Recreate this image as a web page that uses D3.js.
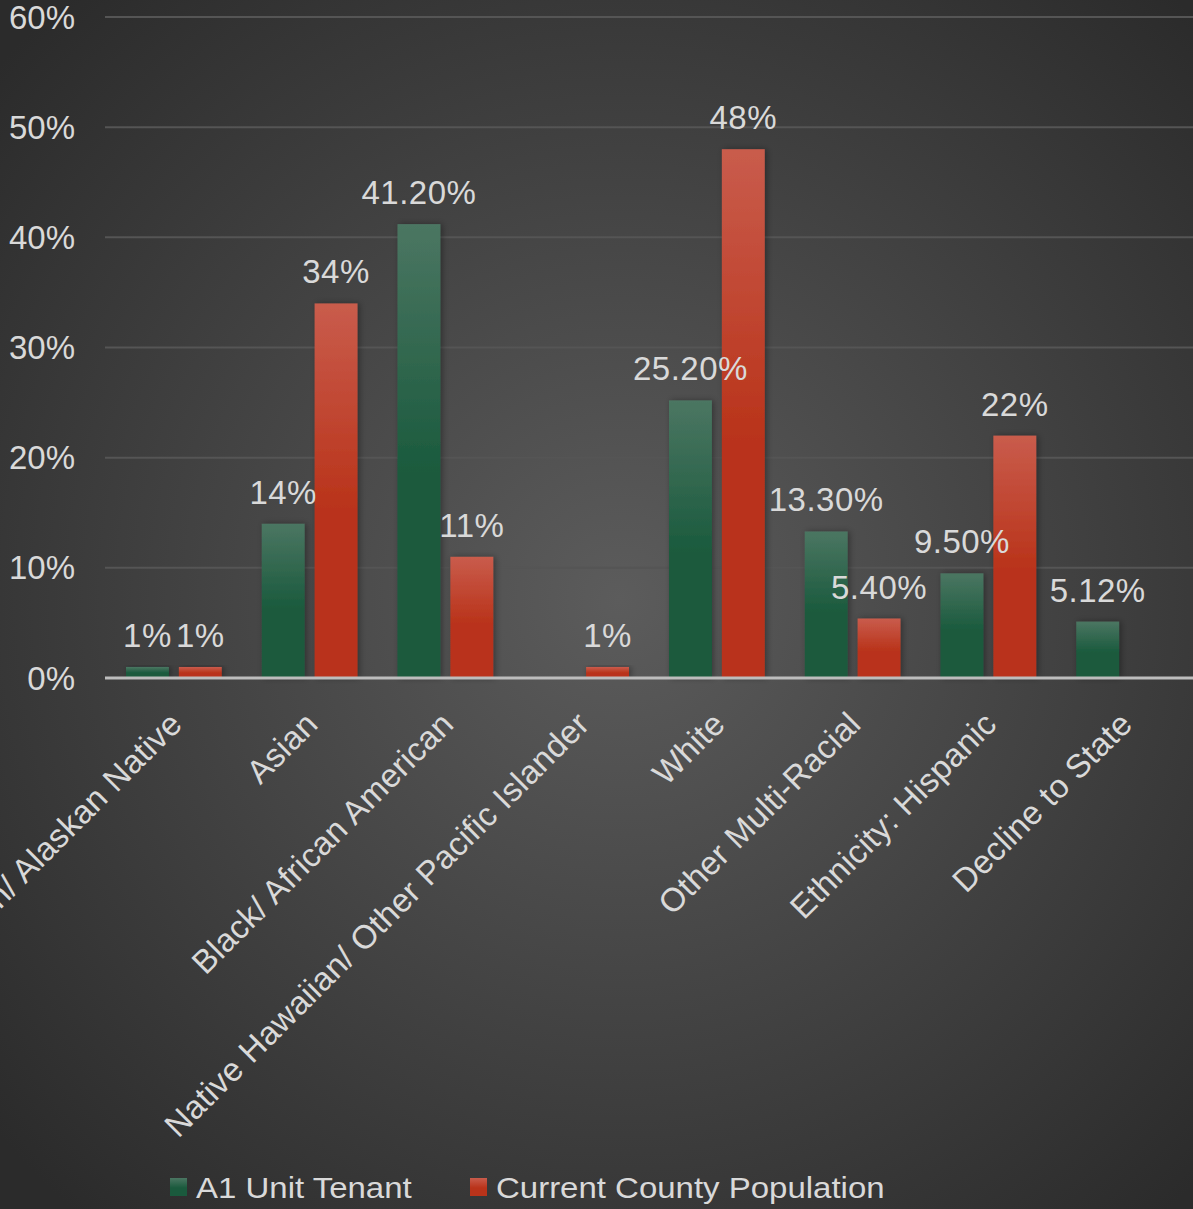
<!DOCTYPE html>
<html>
<head>
<meta charset="utf-8">
<script src="https://cdn.jsdelivr.net/npm/d3@7"></script>
<style>
  body { margin: 0; background: #333; }
  svg { display: block; }
  text { font-family: "Liberation Sans", Arial, sans-serif; fill: #d9d9d9; }
</style>
</head>
<body>
<div id="chart"></div>
<script>
// categories and values (percent)
let categories = [
  "American Indian/ Alaskan Native",
  "Asian",
  "Black/ African American",
  "Native Hawaiian/ Other Pacific Islander",
  "White",
  "Other Multi-Racial",
  "Ethnicity: Hispanic",
  "Decline to State"
]
let tenantValues = [1, 14, 41.2, null, 25.2, 13.3, 9.5, 5.12]
let tenantLabels = ["1%", "14%", "41.20%", "", "25.20%", "13.30%", "9.50%", "5.12%"]
let countyValues = [1, 34, 11, 1, 48, 5.4, 22, null]
let countyLabels = ["1%", "34%", "11%", "1%", "48%", "5.40%", "22%", ""]
let seriesNames = ["A1 Unit Tenant", "Current County Population"]
let yTicks = [0, 10, 20, 30, 40, 50, 60]

let width = 1193
let height = 1209

let svg = d3.select("#chart")
  .append("svg")
  .attr("width", width)
  .attr("height", height)

let defs = svg.append("defs")

// background radial gradient
let bg = defs.append("radialGradient")
  .attr("id", "bg")
  .attr("gradientUnits", "userSpaceOnUse")
  .attr("cx", 620).attr("cy", 600).attr("r", 820)
bg.append("stop").attr("offset", "0%").attr("stop-color", "#5c5c5c")
bg.append("stop").attr("offset", "100%").attr("stop-color", "#2b2b2b")

// bar gradients
function barGradient(id, top, bottom) {
  let g = defs.append("linearGradient")
    .attr("id", id)
    .attr("x1", 0).attr("y1", 0).attr("x2", 0).attr("y2", 1)
  g.append("stop").attr("offset", "0%").attr("stop-color", top)
  g.append("stop").attr("offset", "55%").attr("stop-color", bottom)
  g.append("stop").attr("offset", "100%").attr("stop-color", bottom)
}
barGradient("gGreen", "#4b7662", "#1a5a3d")
barGradient("gRed", "#c95c4c", "#b9331a")

let shadow = defs.append("filter").attr("id", "shadow")
  .attr("x", "-30%").attr("y", "-10%").attr("width", "160%").attr("height", "120%")
shadow.append("feDropShadow")
  .attr("dx", 2).attr("dy", 0).attr("stdDeviation", 3)
  .attr("flood-color", "#000").attr("flood-opacity", 0.35)

svg.append("rect")
  .attr("width", width).attr("height", height)
  .attr("fill", "url(#bg)")

// scales
let yScale = d3.scaleLinear()
  .domain([0, 60])
  .range([678, 17])

let x0 = d3.scaleBand()
  .domain(categories)
  .range([106, 1192])

let x1 = d3.scaleBand()
  .domain(seriesNames)
  .range([20, x0.bandwidth() - 20])
  .paddingInner(10 / 53)

// gridlines
svg.append("g")
  .selectAll("line")
  .data(yTicks.filter(d => d > 0))
  .enter()
  .append("line")
  .attr("x1", 105).attr("x2", width)
  .attr("y1", d => yScale(d)).attr("y2", d => yScale(d))
  .attr("stroke", "#555555")
  .attr("stroke-width", 2)

// y tick labels
svg.append("g")
  .selectAll("text")
  .data(yTicks)
  .enter()
  .append("text")
  .attr("x", 75)
  .attr("y", d => yScale(d))
  .attr("dy", "0.35em")
  .attr("text-anchor", "end")
  .style("font-size", "33px")
  .text(d => d + "%")

// bars
let series = [
  {name: seriesNames[0], values: tenantValues, labels: tenantLabels, fill: "url(#gGreen)"},
  {name: seriesNames[1], values: countyValues, labels: countyLabels, fill: "url(#gRed)"}
]

let rowsFor = s => categories.map((c, i) => ({cat: c, v: s.values[i], label: s.labels[i]}))
  .filter(d => d.v != null)

series.forEach(s => {
  svg.append("g")
    .selectAll("rect")
    .data(rowsFor(s))
    .enter()
    .append("rect")
    .attr("x", d => x0(d.cat) + x1(s.name))
    .attr("y", d => yScale(d.v))
    .attr("width", x1.bandwidth())
    .attr("height", d => yScale(0) - yScale(d.v))
    .attr("fill", s.fill)
    .attr("filter", "url(#shadow)")
})

// zero axis line
svg.append("line")
  .attr("x1", 105).attr("x2", width)
  .attr("y1", yScale(0)).attr("y2", yScale(0))
  .attr("stroke", "#bdbdbd")
  .attr("stroke-width", 3)

// value labels drawn after all bars so they sit on top
series.forEach(s => {
  svg.append("g")
    .selectAll("text")
    .data(rowsFor(s).filter(d => d.label))
    .enter()
    .append("text")
    .attr("x", d => x0(d.cat) + x1(s.name) + x1.bandwidth() / 2)
    .attr("y", d => yScale(d.v) - 20)
    .attr("text-anchor", "middle")
    .style("font-size", "33px")
    .style("letter-spacing", "0.5px")
    .text(d => d.label)
})

// category labels, rotated
svg.append("g")
  .selectAll("text")
  .data(categories)
  .enter()
  .append("text")
  .attr("transform", d => {
    let cx = x0(d) + x0.bandwidth() / 2
    return "translate(" + (cx + 10) + "," + 726 + ") rotate(-45)"
  })
  .attr("text-anchor", "end")
  .style("font-size", "33px")
  .style("letter-spacing", "0.3px")
  .text(d => d)

// legend
let legend = svg.append("g")
let legendItems = [
  {name: seriesNames[0], x: 170, fill: "url(#gGreen)"},
  {name: seriesNames[1], x: 470, fill: "url(#gRed)"}
]
legend.selectAll("rect")
  .data(legendItems)
  .enter()
  .append("rect")
  .attr("x", d => d.x).attr("y", 1178)
  .attr("width", 17).attr("height", 18)
  .attr("fill", d => d.fill)
legend.selectAll("text")
  .data(legendItems)
  .enter()
  .append("text")
  .attr("transform", d => "translate(" + (d.x + 26) + ",1198) scale(1,0.87)")
  .style("font-size", "33px")
  .text(d => d.name)
</script>
</body>
</html>
